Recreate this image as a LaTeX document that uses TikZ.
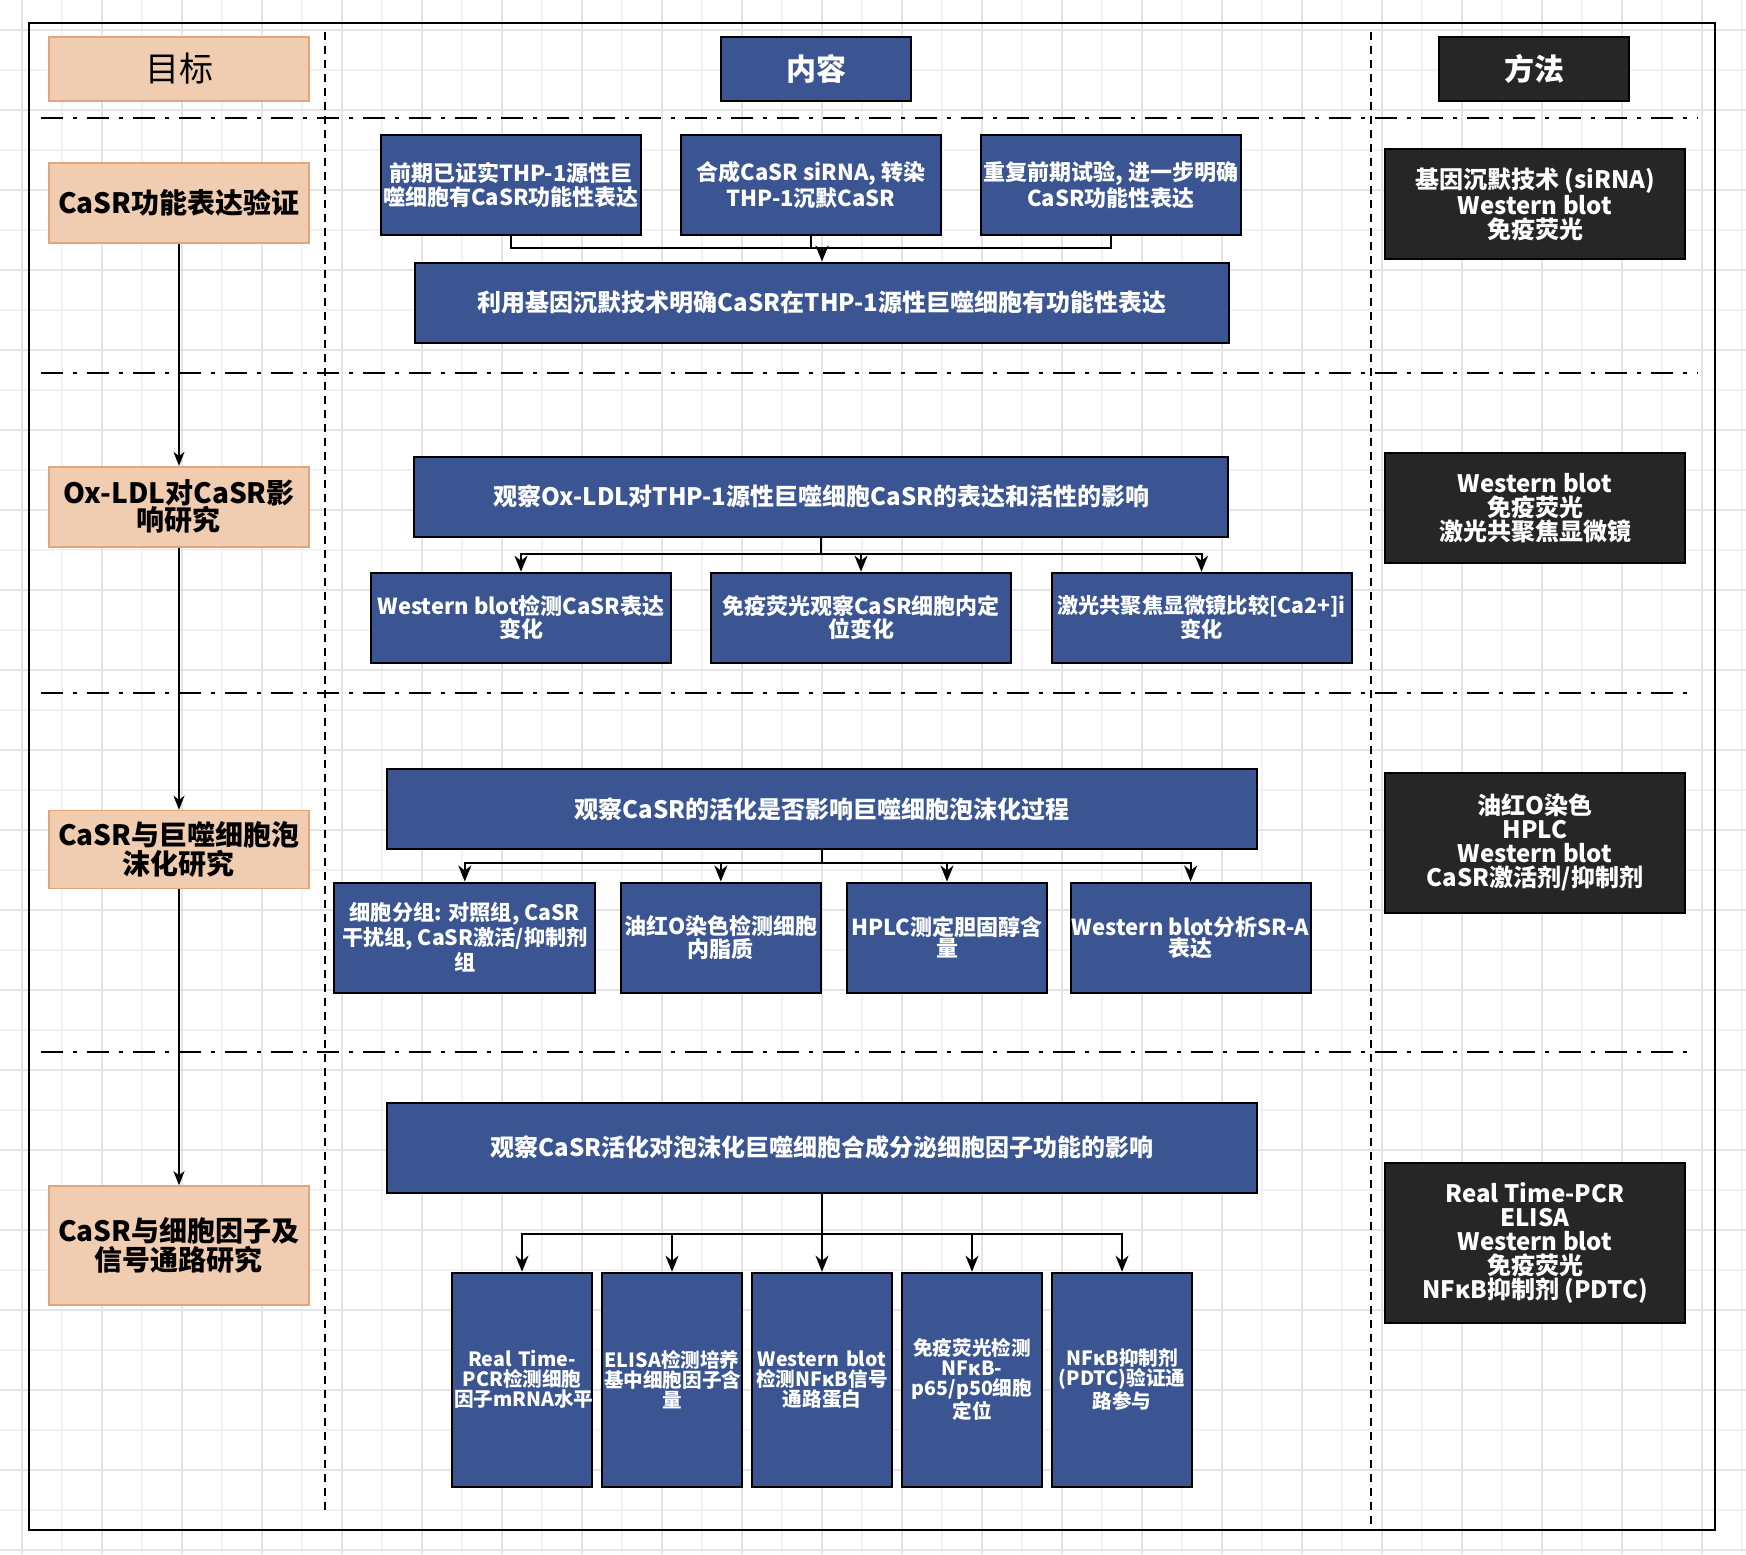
\documentclass[tikz,border=0pt]{standalone}
\usepackage{fontspec}
\setmainfont{Noto Sans CJK SC}
\usetikzlibrary{arrows.meta}
\definecolor{goalfill}{HTML}{F0CDB0}
\definecolor{goalline}{HTML}{E2A67E}
\definecolor{taskfill}{HTML}{3A5591}
\definecolor{toolfill}{HTML}{262626}
\definecolor{gridmajor}{HTML}{E4E4E4}
\definecolor{gridminor}{HTML}{F2F2F2}

\begin{document}
\begin{tikzpicture}[x=0.5pt,y=-0.5pt]
\tikzset{GOAL/.style={draw=goalline,fill=goalfill,line width=0.8pt,inner sep=0pt,align=center,minimum width=130pt,font=\bfseries\fontsize{14}{13.5}\selectfont}}
\tikzset{TASK/.style={draw=black,fill=taskfill,line width=1pt,inner sep=0pt,align=center,text=white,font=\bfseries\fontsize{11}{10.5}\selectfont}}
\tikzset{AIM/.style={TASK,font=\bfseries\fontsize{12}{12}\selectfont}}
\tikzset{TOOL/.style={draw=black,fill=toolfill,line width=1pt,inner sep=0pt,align=center,text=white,minimum width=150pt,font=\bfseries\fontsize{12}{12}\selectfont}}
\tikzset{HEAD/.style={minimum width=95pt,minimum height=32pt,font=\bfseries\fontsize{15}{15}\selectfont}}

\tikzset{LINK/.style={draw,line width=1pt}}
\tikzset{ARROW/.style={draw,line width=1pt,-{Stealth[length=8pt,width=6.5pt,inset=2.5pt]}}}
\tikzset{FLOW/.style={draw,line width=0.7pt,-{Stealth[length=7pt,width=5.5pt,inset=2pt]}}}

\tikzset{ROWSEP/.style={line width=1pt,dash pattern=on 11pt off 5pt on 2pt off 5pt}}
\tikzset{COLSEP/.style={line width=1pt,dash pattern=on 4pt off 3pt}}

\useasboundingbox (0,0) rectangle (1746,1554);
\fill[white] (0,0) rectangle (1746,1554);
\foreach \gx in {22,62,...,1742} \draw[gridminor,line width=0.6pt] (\gx,0) -- (\gx,1554);
\foreach \gy in {30,70,...,1550} \draw[gridminor,line width=0.6pt] (0,\gy) -- (1746,\gy);
\foreach \gx in {22,102,...,1742} \draw[gridmajor,line width=0.6pt] (\gx,0) -- (\gx,1554);
\foreach \gy in {30,110,...,1550} \draw[gridmajor,line width=0.6pt] (0,\gy) -- (1746,\gy);

\draw[line width=1pt] (29,22.7) rectangle (1715,1530);
\draw[COLSEP] (325,32) -- (325,1512);
\draw[COLSEP] (1371,32) -- (1371,1528);
\draw[ROWSEP] (41,118.3) -- (1698,118.3);
\draw[ROWSEP] (41,372.7) -- (1698,372.7);
\draw[ROWSEP] (41,692.7) -- (1688,692.7);
\draw[ROWSEP] (41,1052) -- (1690,1052);

\node[GOAL,minimum height=32pt,font=\fontsize{17}{17}\selectfont] (goalhead) at (179,68.7) {目标};
\node[TASK,HEAD] (taskhead) at (816,68.5) {内容};
\node[TOOL,HEAD] (toolhead) at (1534,68.7) {方法};

\node[GOAL,minimum height=40pt,font=\bfseries\fontsize{14}{14}\selectfont] (goal1) at (179,202.7) {CaSR功能表达验证};
\node[GOAL,minimum height=40pt] (goal2) at (179,506.7) {Ox-LDL对CaSR影\\响研究};
\node[GOAL,minimum height=39pt] (goal3) at (179,849.6) {CaSR与巨噬细胞泡\\沫化研究};
\node[GOAL,minimum height=59.5pt] (goal4) at (179,1245.5) {CaSR与细胞因子及\\信号通路研究};

\path[FLOW] (goal1) -- (goal2);
\path[FLOW] (goal2) -- (goal3);
\path[FLOW] (goal3) -- (goal4);

\node[TOOL,minimum height=55pt] (tool1) at (1535,204) {基因沉默技术 (siRNA)\\Western blot\\免疫荧光};
\node[TOOL,minimum height=55pt] (tool2) at (1535,507.7) {Western blot\\免疫荧光\\激光共聚焦显微镜};
\node[TOOL,minimum height=70pt] (tool3) at (1535,842.7) {油红O染色\\HPLC\\Western blot\\CaSR激活剂/抑制剂};
\node[TOOL,minimum height=80pt] (tool4) at (1535,1242.7) {Real Time-PCR\\ELISA\\Western blot\\免疫荧光\\NFκB抑制剂 (PDTC)};

\node[TASK,minimum width=130pt,minimum height=50pt] (proof) at (511,185) {前期已证实THP-1源性巨\\噬细胞有CaSR功能性表达};
\node[TASK,minimum width=130pt,minimum height=50pt] (sirna) at (811,185) {合成CaSR siRNA, 转染\\THP-1沉默CaSR};
\node[TASK,minimum width=130pt,minimum height=50pt] (repeat) at (1111,185) {重复前期试验, 进一步明确\\CaSR功能性表达};
\node[AIM,minimum width=407pt,minimum height=40pt] (silence) at (822,302.5) {利用基因沉默技术明确CaSR在THP-1源性巨噬细胞有功能性表达};

\coordinate (join1) at (822,248.3);
\path[LINK] (proof.south) |- (join1);
\path[LINK] (repeat.south) |- (join1);
\path[LINK] (sirna.south) -- (sirna.south |- join1);
\path[ARROW] (join1) -- (silence.north);

\node[AIM,minimum width=407pt,minimum height=40pt] (oxldl) at (821.3,496.7) {观察Ox-LDL对THP-1源性巨噬细胞CaSR的表达和活性的影响};
\node[TASK,minimum width=150pt,minimum height=45pt] (oxwb) at (521,617.7) {Western blot检测CaSR表达\\变化};
\node[TASK,minimum width=150pt,minimum height=45pt] (oxif) at (861,617.7) {免疫荧光观察CaSR细胞内定\\位变化};
\node[TASK,minimum width=150pt,minimum height=45pt,font=\bfseries\fontsize{10.6}{10.5}\selectfont] (oxca) at (1201.5,617.7) {激光共聚焦显微镜比较[Ca2+]i\\变化};

\path[ARROW] (oxldl.south) -- ++(0,16.6) -| (oxwb);
\path[ARROW] (oxldl.south) -- ++(0,16.6) -| (oxif);
\path[ARROW] (oxldl.south) -- ++(0,16.6) -| (oxca);

\node[AIM,minimum width=435pt,minimum height=40pt] (foam) at (822.2,809) {观察CaSR的活化是否影响巨噬细胞泡沫化过程};
\node[TASK,minimum width=130.5pt,minimum height=55pt,font=\bfseries\fontsize{10.6}{10.5}\selectfont] (foamgroup) at (464.8,937.5) {细胞分组: 对照组, CaSR\\干扰组, CaSR激活/抑制剂\\组};
\node[TASK,minimum width=100pt,minimum height=55pt] (foamoil) at (720.8,937.5) {油红O染色检测细胞\\内脂质};
\node[TASK,minimum width=100pt,minimum height=55pt] (foamhplc) at (947,937.5) {HPLC测定胆固醇含\\量};
\node[TASK,minimum width=120pt,minimum height=55pt] (foamwb) at (1190.6,937.5) {Western blot分析SR-A\\表达};

\path[ARROW] (foam.south) -- ++(0,12.7) -| (foamgroup);
\path[ARROW] (foam.south) -- ++(0,12.7) -| (foamoil);
\path[ARROW] (foam.south) -- ++(0,12.7) -| (foamhplc);
\path[ARROW] (foam.south) -- ++(0,12.7) -| (foamwb);

\node[AIM,minimum width=435pt,minimum height=45pt] (cyto) at (822,1147.5) {观察CaSR活化对泡沫化巨噬细胞合成分泌细胞因子功能的影响};
\tikzset{TALL/.style={TASK,minimum width=70pt,minimum height=107pt,text width=68pt,font=\bfseries\fontsize{9.8}{10}\selectfont}}
\node[TALL] (cytopcr) at (522,1379.7) {Real Time-\\PCR检测细胞\\因子mRNA水平};
\node[TALL] (cytoelisa) at (672,1379.7) {ELISA检测培养\\基中细胞因子含\\量};
\node[TALL] (cytowb) at (822,1379.7) {Western blot\\检测NFκB信号\\通路蛋白};
\node[TALL] (cytoif) at (972,1379.7) {免疫荧光检测\\NFκB-\\p65/p50细胞\\定位};
\node[TALL] (cytopdtc) at (1122,1379.7) {NFκB抑制剂\\(PDTC)验证通\\路参与};

\path[ARROW] (cyto.south) -- ++(0,40) -| (cytopcr);
\path[ARROW] (cyto.south) -- ++(0,40) -| (cytoelisa);
\path[ARROW] (cyto.south) -- (cytowb);
\path[ARROW] (cyto.south) -- ++(0,40) -| (cytoif);
\path[ARROW] (cyto.south) -- ++(0,40) -| (cytopdtc);

\end{tikzpicture}
\end{document}
